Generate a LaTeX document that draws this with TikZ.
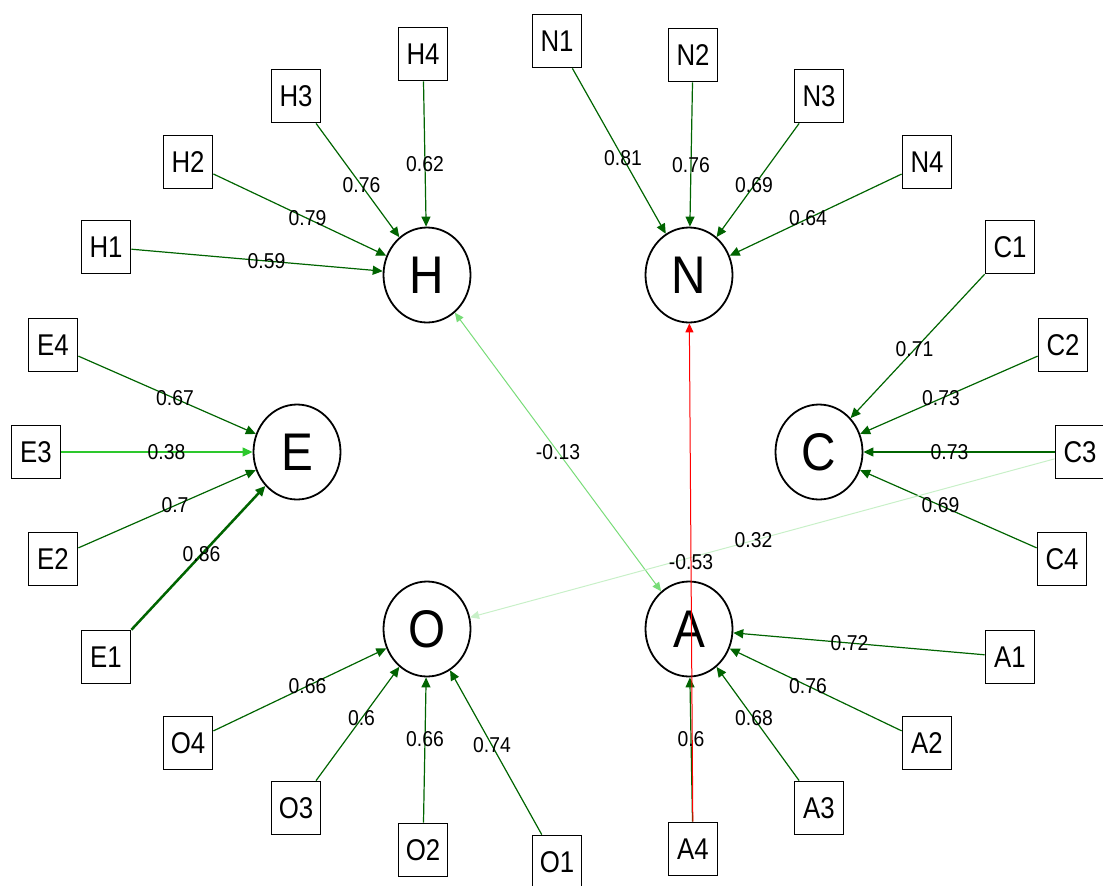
\documentclass[tikz,border=0pt]{standalone}
\usepackage{fontspec}
\setmainfont{Liberation Sans}
\newfontfamily\latfont[FakeStretch=0.9]{Liberation Sans}
\newfontfamily\manfont[FakeStretch=0.86]{Liberation Sans}
\newfontfamily\lblfont[FakeStretch=0.9]{Liberation Sans}
\usetikzlibrary{shapes.geometric,arrows.meta,calc}
\definecolor{dkg}{RGB}{0,100,0}
\definecolor{midg}{RGB}{45,200,45}
\definecolor{ltg}{RGB}{120,220,120}
\definecolor{pag}{RGB}{200,240,200}
\begin{document}
\begin{tikzpicture}[x=1pt,y=-1pt,
  lat/.style={ellipse,draw,line width=1.8pt,minimum width=87pt,minimum height=95pt,inner sep=0pt,font=\latfont\fontsize{53}{53}\selectfont},
  man/.style={rectangle,draw,line width=1.8pt,minimum width=49pt,minimum height=53pt,inner sep=0pt,font=\manfont\fontsize{30}{30}\selectfont},
  ld/.style={draw=dkg,line width=1.2pt,-{Triangle[length=10pt,width=9pt]}},
  lbl/.style={font=\lblfont\fontsize{21.5}{21.5}\selectfont,inner sep=0pt}]
\useasboundingbox (0,0) rectangle (1103,886);
% latent
\node[lat] (H) at (427,275) {H};
\node[lat] (N) at (689,275) {N};
\node[lat] (E) at (297,452) {E};
\node[lat] (C) at (819,452) {C};
\node[lat] (O) at (427,629) {O};
\node[lat] (A) at (689,629) {A};
% manifest
\node[man] (H1) at (106,247) {H1};
\node[man] (H2) at (188,162) {H2};
\node[man] (H3) at (296,96) {H3};
\node[man] (H4) at (423,54) {H4};
\node[man] (N1) at (557,41) {N1};
\node[man] (N2) at (693,55) {N2};
\node[man] (N3) at (819,96) {N3};
\node[man] (N4) at (927,162) {N4};
\node[man] (C1) at (1010,247) {C1};
\node[man] (C2) at (1063,345) {C2};
\node[man] (C3) at (1080,452) {C3};
\node[man] (C4) at (1062,559) {C4};
\node[man] (A1) at (1010,657) {A1};
\node[man] (A2) at (927,743) {A2};
\node[man] (A3) at (819,808) {A3};
\node[man] (A4) at (693,849) {A4};
\node[man] (O1) at (557,862) {O1};
\node[man] (O2) at (423,850) {O2};
\node[man] (O3) at (296,808) {O3};
\node[man] (O4) at (188,743) {O4};
\node[man] (E1) at (106,657) {E1};
\node[man] (E2) at (53,559) {E2};
\node[man] (E3) at (36,452) {E3};
\node[man] (E4) at (53,345) {E4};
% loadings
\draw[ld] (H1) -- (H); \node[lbl] at ($(H1)!0.5!(H)$) {0.59};
\draw[ld] (H2) -- (H); \node[lbl] at ($(H2)!0.5!(H)$) {0.79};
\draw[ld] (H3) -- (H); \node[lbl] at ($(H3)!0.5!(H)$) {0.76};
\draw[ld] (H4) -- (H); \node[lbl] at ($(H4)!0.5!(H)$) {0.62};
\draw[ld] (N1) -- (N); \node[lbl] at ($(N1)!0.5!(N)$) {0.81};
\draw[ld] (N2) -- (N); \node[lbl] at ($(N2)!0.5!(N)$) {0.76};
\draw[ld] (N3) -- (N); \node[lbl] at ($(N3)!0.5!(N)$) {0.69};
\draw[ld] (N4) -- (N); \node[lbl] at ($(N4)!0.5!(N)$) {0.64};
\draw[ld] (C1) -- (C); \node[lbl] at ($(C1)!0.5!(C)$) {0.71};
\draw[ld] (C2) -- (C); \node[lbl] at ($(C2)!0.5!(C)$) {0.73};
\draw[ld] (C3) -- (C); \node[lbl] at ($(C3)!0.5!(C)$) {0.73};
\draw[ld] (C4) -- (C); \node[lbl] at ($(C4)!0.5!(C)$) {0.69};
\draw[ld] (A1) -- (A); \node[lbl] at ($(A1)!0.5!(A)$) {0.72};
\draw[ld] (A2) -- (A); \node[lbl] at ($(A2)!0.5!(A)$) {0.76};
\draw[ld] (A3) -- (A); \node[lbl] at ($(A3)!0.5!(A)$) {0.68};
\draw[ld] (A4) -- (A); \node[lbl] at ($(A4)!0.5!(A)$) {0.6};
\draw[ld] (O1) -- (O); \node[lbl] at ($(O1)!0.5!(O)$) {0.74};
\draw[ld] (O2) -- (O); \node[lbl] at ($(O2)!0.5!(O)$) {0.66};
\draw[ld] (O3) -- (O); \node[lbl] at ($(O3)!0.5!(O)$) {0.6};
\draw[ld] (O4) -- (O); \node[lbl] at ($(O4)!0.5!(O)$) {0.66};
\draw[ld,line width=2.5pt] (E1) -- (E); \node[lbl] at ($(E1)!0.5!(E)$) {0.86};
\draw[ld] (E2) -- (E); \node[lbl] at ($(E2)!0.5!(E)$) {0.7};
\draw[ld,draw=midg] (E3) -- (E); \node[lbl] at ($(E3)!0.5!(E)$) {0.38};
\draw[ld] (E4) -- (E); \node[lbl] at ($(E4)!0.5!(E)$) {0.67};
% correlations / cross paths
\draw[draw=ltg,line width=1pt,{Triangle[length=9pt,width=8pt]}-{Triangle[length=9pt,width=8pt]}] (H) -- (A);
\node[lbl] at ($(H)!0.5!(A)$) {-0.13};
\draw[draw=pag,line width=1pt,-{Triangle[length=9pt,width=8pt]}] (C3) -- (O);
\node[lbl] at ($(C3)!0.5!(O)$) {0.32};
\draw[draw=red,line width=1pt,-{Triangle[length=9pt,width=8pt]}] (A4) -- (N);
\node[lbl] at ($(A4)!0.5!(N)$) {-0.53};
\end{tikzpicture}
\end{document}
